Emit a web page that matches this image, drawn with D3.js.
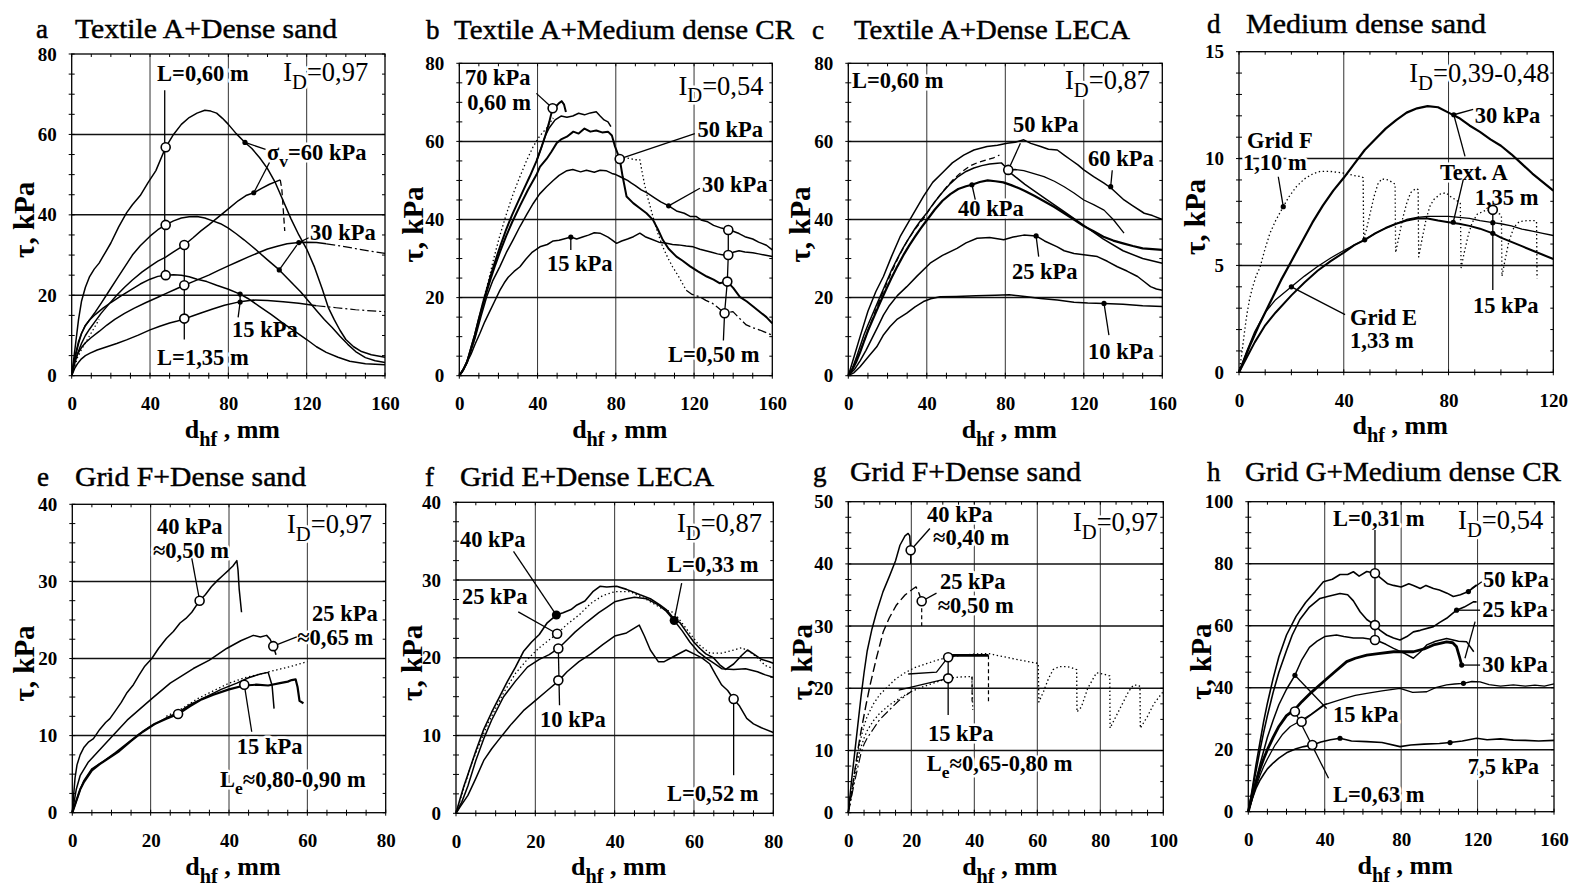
<!DOCTYPE html>
<html><head><meta charset="utf-8">
<script src="https://cdn.jsdelivr.net/npm/d3@7/dist/d3.min.js"></script>
<style>
html,body{margin:0;padding:0;background:#fff;}
svg{display:block;}
text{font-family:"Liberation Serif","Times New Roman",Times,serif;fill:#000;}
</style></head><body>
<svg id="chart" width="1570" height="886" viewBox="0 0 1570 886"></svg>
<script>
// ================= DATA =================
// ---- panel a : Textile A + Dense sand ----
const a60=[[0,0],[1,4],[2,8],[3.5,14],[5,18.5],[7,22],[9,24.5],[11.5,26.5],[14,28],[17,30.5],[20,33],[24,37],[28,40.5],[31,42.5],[35,44.8],[39,48],[43,51],[48,56.8],[52,60],[56,62.5],[60,64.2],[64,65.3],[68,66],[71,65.8],[74,65.3],[77,64],[80,62.5],[84,60.2],[88.5,58],[92,56.5],[96,54.2],[100,51.5],[104,48],[108,43.5],[112,39],[116,35],[120,31.5],[124,27],[128,21.5],[131,17],[134,14],[137,11.3],[140,9],[144,7.2],[148,6],[153,5.2],[160,4.6]];
const a40=[[0,0],[1,2.5],[2,5],[3.5,8],[5,10.5],[7,12.5],[9,13.8],[12,15.8],[15,18],[19,21],[23,24],[27,27],[31,30],[35,32.3],[40,34.7],[44,36.3],[48,37.5],[52,38.5],[56,39.2],[60,39.5],[64,39.6],[68,39.2],[72,38.5],[76,37.8],[80,36.7],[84,35.3],[88,33.8],[92,32.2],[96,30.5],[100,28.8],[106,26.3],[110,24.3],[114,22.3],[117,20.8],[121,18.5],[125,16.2],[129,14],[133,12],[137,9.8],[141,7.8],[145,6],[150,4.5],[155,3.7],[160,3.3]];
const aRise=[[0,0],[1.5,3],[3,5.5],[5,8],[7,10],[9,11.5],[12,13.5],[15,15.5],[19,17.8],[23,20],[27,22],[31,23.8],[36,25.8],[40,27.2],[44,28.5],[48,29.5],[52,30.8],[57.5,32.5],[62,34.3],[66,36],[70,37.5],[75,39.5],[80,41.5],[85,43.5],[89,44.8],[93,45.5],[97,46.6],[101,47.6],[104,48.2],[106.5,48.7]];
const aRiseTail=[[106.5,48.7],[107.3,46.5],[107.8,43],[108.3,39.5],[108.8,36]];
const a30=[[0,0],[1,2.5],[2,4.2],[3.5,5.8],[5,7],[7,8.2],[10,9.5],[14,11],[18,12.6],[22,14],[27,15.5],[32,16.8],[38,18.2],[44,19.5],[48,20.4],[53,21.5],[57.5,22.5],[62,23.4],[66,24.2],[70,25],[75,26.2],[80,27.3],[85,28.4],[90,29.5],[95,30.5],[100,31.5],[105,32.2],[110,32.8],[116,33.1],[120,33.2],[125,33.1],[130,32.8]];
const a30Tail=[[130,32.8],[137,32.3],[145,31.6],[152,31],[160,30.4]];
const a25=[[0,0],[1,3],[2,5.5],[3.5,8.5],[5,10.5],[7,12.5],[9,13.8],[12,15.2],[16,16.8],[20,18.2],[25,19.8],[30,21.3],[35,22.8],[40,24],[44,24.7],[48,25],[52,25.1],[56,25],[60,24.6],[64,24],[69,23.4],[74,22.5],[80,21.5],[86,20.3],[90,19.2],[96,17.2],[102,15.2],[108,13],[114,11],[120,9],[125,7.2],[130,5.8],[136,4.6],[142,3.6],[150,3],[160,2.7]];
const a15=[[0,0],[1.5,1.8],[3,3],[5,4.2],[7,5],[9.4,5.6],[13,6.4],[18,7.2],[23,8],[28,8.9],[34,10.1],[40,11.4],[45,12.3],[50,13.1],[54,13.6],[57.9,14.2],[62,14.9],[66,15.6],[72,16.6],[78,17.5],[85,18.3],[92.8,18.8],[100,18.7],[108,18.4],[116,18],[125,17.4]];
const a15Tail=[[125,17.4],[135,16.9],[145,16.4],[160,15.9]];
const aDotted=[[1,1.5],[3,4.5],[5,6.5],[8,9],[11,11.5],[14,14]];
const aCircles=[[48,56.8],[48,37.5],[48,25],[57.5,32.5],[57.5,22.5],[57.5,14.2]];
const aDots=[[88.5,58],[93,45.5],[106,26.3],[116,33.1],[86,20.3],[86,18.3]];
const aLeaders=[[[47.5,71],[47.5,25]],[[57.5,32.5],[57.5,9]],[[88.5,58],[99,56.3]],[[93,45.5],[101,53]],[[106,26.3],[115,32.5]],[[116,33.1],[121,34.3]],[[86,20.3],[86,18.3],[85,14.5]]];

// ---- panel b : Textile A + Medium dense CR ----
const b70dot=[[0,0],[1.5,1],[3,2.5],[4.5,4.3],[6.3,6.5],[8,9.8],[10,14],[12.3,19.4],[15,24.5],[17.4,29.6],[20.5,35.5],[24.2,41.6],[27.5,46.5],[31,51],[34.5,55.2],[37.8,58.7],[41,61.3],[44.6,63.4],[48,66]];
const b70=[[0,0],[2,1.5],[4,3.5],[6,7],[8,10.5],[10,14.5],[12,18.5],[14,22],[16,25.5],[18,28.8],[20.8,33],[24,37.5],[27,41.2],[30,44.5],[33,47.8],[36,51],[39.5,55],[42,58.5],[44,61.5],[46,65],[47.7,68.5],[49.5,69],[51,69.8],[52.3,70.3],[53.5,69.5],[54.5,67.5]];
const b66=[[39.5,55],[42,58.5],[44,61.5],[46,63.5],[49,65.5],[52,66.5],[55,66.2],[58,66.5],[61,67.2],[64,66.8],[67,67.3],[70,67.6],[72,66.5],[74,65.5],[76,65],[77.5,63.8]];
const b50=[[0,0],[2,1.5],[4,3.5],[6,7],[8,10.5],[10,14.5],[12,18],[14,21.5],[16,24.8],[18,27.8],[20.8,31.7],[24,35.8],[27,39.3],[31,43.5],[35,47.5],[39.5,51.5],[41.2,53.5],[44.6,55.5],[47,57.3],[49.7,59.5],[52,60.5],[55,61.2],[58.3,62.5],[61,62],[64,63.3],[67,62.5],[70,62.8],[73,62.3],[76,62.5],[78,61.5],[79.6,58.7],[82,55.5],[83.5,51],[85.5,45.9],[88.9,44.2],[92,43],[95.7,41.6],[99,39.9],[101.5,37.5],[104,34.8],[107,32.5],[111,30.5],[114,29.5],[118,28],[122,26.7],[126.5,25.4],[130,24.6],[133,23.7],[137,24.1],[140,22.5],[143.4,20.2],[147,19],[150.2,17.7],[154,16.2],[157,15],[160,13.4]];
const b30=[[0,0],[2,1.5],[4,3.8],[6,6.5],[8,9.5],[11,15],[14,20.2],[17,24.2],[20.8,28],[24,31.5],[27.5,34.8],[31,38.2],[34.5,41.3],[37.8,44.1],[41,46.5],[44.6,48.4],[48,50],[51,51.3],[55,52.5],[58,52.8],[62,52.2],[65,52.6],[69,52.1],[72,52.6],[75,52.5],[78,51.8],[80,51.5],[82,51],[84,50.5],[86,50],[88,49.3],[90,48.7],[93,47.6],[96,46.8],[100,45.5],[103,44.5],[107,43.5],[111,42.2],[115,41.6],[118,40.8],[121,40.8],[124,39.8],[127,39.4],[130,38.5],[134,37.8],[137.5,37.3],[140,37],[143,36.4],[146,35.6],[150,35],[153,34.2],[157,33.4],[160,32.2]];
const b15=[[0,0],[3,2.5],[6,5.5],[8,8],[10.5,10.8],[13,13.8],[15.5,16.4],[18,19],[20.8,21.9],[23,23.8],[25,25.2],[28,26.7],[31,27.9],[34,29.8],[37,31.5],[41.2,33],[45,33.6],[48,34.5],[51,34.7],[54.8,35.2],[57,35.5],[60,35],[63,35.5],[66,36],[69,36.6],[71.9,36.5],[74,36],[76,35.5],[78,34.8],[80.4,33.9],[83,34.5],[86,35],[89,35.6],[92.3,36.5],[95,35.6],[98,35],[102,34.2],[106,33.9],[109,33.6],[112,33.5],[116,33.2],[119.6,33],[123,32.4],[126,32],[129,31.6],[132,31.2],[135,30.9],[137.5,30.9],[140,31.6],[143,32],[146,31.7],[150,31.5],[153,31.2],[156,30.9],[160,30.5]];
const bDropDot=[[82,55.5],[85,55.8],[88,55.5],[90,55.3],[92.3,55.3],[93.5,52],[94.5,49.5],[95.7,46.7],[97.5,43.5],[99,40.7],[101.5,36.5],[104,33],[106.5,30.3],[109,27.9],[112,25.5],[116,21.9]];
const bDropTail=[[116,21.9],[119,20.8],[123,20.2],[126,19.3],[129.5,18.5],[132,17.5],[135.6,16],[139.9,16.4],[143,14.8],[146.7,13],[150,12.3],[153.6,11.7],[157,11],[160,10.4]];
const bCircles=[[47.7,68.5],[82,55.5],[137.5,37.3],[137.5,30.9],[137,24.1],[135.6,16]];
const bDots=[[107,43.5],[57,35.5]];
const bLeaders=[[[39.4,72.3],[47.7,68.5]],[[82,55.5],[120.4,62]],[[107,43.5],[123,48]],[[57,35.5],[57,32.2]],[[137.5,37.3],[137.5,30.9],[137,24.1],[135.6,16],[135,9]]];

// ---- panel c : Textile A + Dense LECA ----
const c60=[[0,0],[3,5],[6,10],[10,16.5],[14,21.5],[17.9,25.4],[22,30.5],[26.4,35.6],[32,40.5],[38.3,45.9],[43,49.5],[48.6,52.3],[53,54.5],[58.8,56.5],[64,57.8],[70.7,58.7],[76,59],[80.9,59.5],[85,59.8],[89.4,60.4],[93,59.5],[98,58.7],[102,58],[106.5,57.8],[110,56.5],[113.3,55.3],[117,54],[120,52.7],[125,51],[130.3,49.3],[134,48],[140.5,45],[145,43.5],[150.8,41.6],[155,41],[160,40]];
const c50=[[0,0],[2,1.8],[4,4.5],[6,7.5],[8,10.5],[10,13],[13,16.5],[16,20],[19,23.5],[22,27],[25,30],[28,32.8],[31,35.3],[34,37.7],[37,39.8],[40,41.7],[44,44.5],[48,47],[52,49.2],[56,51],[60,52.3],[64,53.2],[68,53.8],[72,54.2],[76,54.4],[78,54.5],[80,53.5],[82,52.2],[85,51],[90,49],[100,45.5],[110,42],[120,38.5],[130,35],[140,32],[150,30],[160,28.8]];
const c40=[[0,0],[2,1.5],[4,3.5],[6,6],[8,8.8],[10,11.5],[13,15],[16,18.5],[19,21.8],[22,25],[25,28],[28,30.8],[31,33.3],[34,35.6],[37,37.8],[40,39.8],[44,42.5],[48,44.8],[52,46.5],[56,47.8],[60,48.5],[63,48.9],[67,49.6],[71,50],[75,49.8],[79,49.5],[83,48.8],[87,48],[90,47.3],[95,46],[100,44.6],[105,43.2],[110,41.6],[115,40],[120,38.3],[125,37],[130,35.6],[135,34.6],[140,33.9],[145,33.2],[150,32.6],[155,32.4],[160,32.2]];
const cDashRise=[[0,0],[3,2.8],[6,6.2],[10,11.5],[14,16.8],[18,21.8],[22,26.5],[26,30.8],[30,34.5],[34,37.5],[38,40],[42,43],[46,45.8],[50,48.3],[54,50.5],[58,52.3],[62,53.7],[66,54.6],[70,55.2],[74,55.8],[77,56.5]];
const cShort=[[81.5,52.7],[85,52.8],[89.4,52.5],[95,51.7],[99.7,51],[105,49.8],[110,48.4],[115,46.8],[120,45],[125,43.8],[130.3,42.4],[135,40],[140.5,36.5]];
const c25=[[0,0],[3,1.5],[6,3.8],[9,6.5],[12,9.5],[15,12.5],[17.9,15.5],[21,18],[25,20.5],[29.8,22.8],[35,25.5],[41.7,28.8],[48,30.8],[55.4,32.6],[60,34],[65.6,35.2],[72,35.4],[79.2,34.8],[84,35.5],[89.4,36],[95.7,35.8],[100,34.5],[106.5,33],[110,32],[115,31.3],[120,31],[126.9,30.5],[132,29.3],[137.1,27.9],[142,26.8],[147.4,25.4],[151,24],[154,22.8],[157,22.2],[160,21.9]];
const c10=[[0,0],[3,0.8],[6,2.3],[10,4.7],[14.5,7.4],[18,10.5],[21.3,12.6],[25,14.5],[29.8,16],[34,17.6],[38.3,19],[42,19.7],[46.8,20.2],[55,20.3],[65,20.5],[75,20.6],[82,20.7],[90,20.3],[98,19.8],[106.5,19.4],[115,18.8],[122,18.6],[130.3,18.5],[140,18.3],[150,17.9],[160,17.7]];
const cCircles=[[81.5,52.7]];
const cDots=[[133.7,48.4],[63,48.9],[95.7,35.8],[130.3,18.5]];
const cLeaders=[[[87.7,59.5],[81.5,52.7]],[[133.7,48.4],[134.5,52.6]],[[63,48.9],[64.7,45.1]],[[95.7,35.8],[97,30.5]],[[130.3,18.5],[132.8,10.4]]];

// ---- panel d : Medium dense sand ----
const d30=[[0,0],[2,0.6],[4,1.2],[6,1.75],[8,2.3],[10,2.8],[13,3.55],[16,4.3],[20,5.2],[24,6.1],[28,7],[32,7.8],[36,8.5],[40,9.1],[44,9.75],[48,10.4],[52,10.9],[56,11.4],[60,11.8],[64,12.15],[68,12.35],[72,12.45],[76,12.4],[80,12.15],[84,11.9],[88,11.55],[92,11.25],[96,10.9],[100,10.6],[104,10.2],[108,9.75],[112,9.3],[116,8.9],[120,8.5]];
const dLow=[[0,0],[3,0.7],[6,1.4],[10,2.2],[14,2.8],[20,3.6],[25,4.2],[30,4.75],[35,5.2],[40,5.6],[44,5.95],[48,6.2],[52,6.5],[56,6.75],[60,6.95],[64,7.1],[68,7.2],[72,7.2],[76,7.1],[80,7.02],[84,6.95],[88,6.85],[92,6.72],[96.9,6.5],[100,6.3],[104,6.1],[108,5.9],[112,5.7],[116,5.5],[120,5.3]];
const dHigh=[[0,0],[3,1],[6,1.9],[10,2.8],[14,3.4],[20,4],[25,4.5],[30,4.95],[35,5.35],[40,5.7],[44,5.95],[48,6.2],[52,6.5],[56,6.75],[60,6.95],[64,7.15],[68,7.25],[72,7.3],[76,7.3],[80,7.3],[84,7.25],[88,7.2],[92,7.1],[96.9,7.0],[100,6.95],[104,6.85],[108,6.7],[112,6.6],[116,6.5],[120,6.4]];
const dGridF=[[0,0],[1,0.8],[2,1.8],[3,2.7],[4,3.4],[5,3.9],[6.5,4.5],[8,4.9],[10,5.8],[11.8,6.5],[14,7.1],[16.9,7.75],[19,8.2],[22,8.7],[25,9.05],[28.4,9.3],[31,9.4],[34.7,9.4],[38,9.35],[41,9.3],[44,9.2],[46.8,9.15],[47.4,9.1],[47.6,6.3],[48.5,6.6],[50,7.4],[51.5,8.2],[53,8.8],[54.5,9.05],[57,9.0],[59,8.85],[59.6,8.8],[59.8,5.6],[61,6.3],[62.5,7.2],[64,7.9],[65.5,8.4],[67.5,8.6],[68.4,8.55],[68.6,5.4],[70,6.3],[71.5,7.2],[73,7.8],[74.5,8.1],[77,8.35],[79,8.4],[81,8.2],[83,8.05],[84.5,7.9],[84.8,4.9],[86,5.6],[87.5,6.4],[89,7.0],[91,7.4],[94.5,7.6],[97,7.55],[99.6,7.4],[100.2,7.3],[100.4,4.5],[101.5,5.2],[103,6.1],[105,6.8],[107,7.05],[110,7.1],[113,7.1],[113.6,7.05],[113.8,4.4]];
const dCircles=[[96.9,7.6]];
const dDots=[[82,12.05],[16.9,7.75],[81.8,7.02],[20,4],[96.9,7.0],[96.9,6.5],[48,6.2]];
const dLeaders=[[[82,12.05],[89.4,12.3]],[[82,12.05],[86.3,10.1]],[[85.6,9.0],[81.8,7.02]],[[96.9,7.75],[96.9,3.85]],[[15,9.15],[16.9,7.75]],[[20,4],[40.5,2.7]]];

// ---- panel e : Grid F + Dense sand ----
const e40=[[0,0],[0.3,2],[0.7,4.5],[1.2,6.2],[2,7.5],[3,8.5],[4.2,9.2],[5.4,9.6],[7,10.8],[8.5,11.7],[9.6,12.2],[11,13.2],[12.5,14.3],[14,15.6],[15.6,16.6],[17,17.8],[18.5,19],[20.3,20],[22,21.3],[24,22.6],[25.8,23.5],[27.5,24.6],[29,25.2],[30.5,26],[32.5,27.5],[34,28.3],[35.5,29.3],[37,30.1],[38.5,30.8],[40,31.5],[41,32],[42,32.7],[42.3,31.5],[42.6,29],[43.2,26]];
const e25=[[0,0],[0.5,1.5],[1,3],[2,4.8],[4,6.5],[6,7.6],[9.6,9.6],[14,12],[20.3,14.8],[25,16.8],[30.9,18.7],[35,19.8],[39.4,21.3],[43,22.3],[46.2,23],[48,22.8],[49.6,23],[50.5,22.5],[51.3,21.6],[52,20.5]];
const e15a=[[0,0],[1,1.5],[2,3],[3,4],[5,5.5],[7,6.3],[10,7.3],[12,8],[15,9.3],[18,10.5],[21,11.5],[24,12.2],[27,12.8],[30,13.8],[33,14.7],[36,15.3],[40,16],[43.9,16.5],[47,16.6],[50,16.5],[53,16.8],[55,17],[56,17.2],[57,17.3],[57.5,16.3],[58,14.5],[59,14.2]];
const e15b=[[0,0],[1,1.5],[2,3],[3,4.2],[5,5.7],[8,6.7],[11,7.8],[14,9],[17,10.2],[20,11.2],[24,12.3],[27,13],[30,14],[34,15],[38,16],[42,16.8],[45,17.5],[48,18],[50,18.2],[51,16.5],[51.5,13.5]];
const e15dot=[[24,12.5],[28,13.5],[32,14.8],[36,15.8],[40,16.8],[44,17.5],[48,18],[52,18.5],[56,19],[60,19.6]];
const eCircles=[[32.5,27.5],[51.3,21.6],[43.9,16.6],[27,12.8]];
const eLeaders=[[[32.5,27.5],[30.5,33]],[[51.3,21.6],[57.3,22.8]],[[43.9,16.6],[45.8,10.5]]];

// ---- panel f : Grid E + Dense LECA ----
const f40=[[0,0],[1,1.8],[2,3.5],[3,5],[5,8],[7,10.8],[9,13],[11,15],[13,17],[15,18.8],[17,20.8],[19,22],[21,23],[23,24.5],[25.3,25.5],[27,25.8],[29,26.2],[30.5,26.8],[32.5,27.3],[34.5,28.5],[36.3,29.2],[38,29.1],[40.5,29.2],[43,28.8],[46.4,28.1],[49,27.6],[51.4,26.8],[53,26.2],[55,25],[56.5,24.5],[58,23.4],[60,22],[61.5,21.2],[63,20.5],[64.9,20],[66.5,19.1],[68,18.5],[70,19.2],[72,20.3],[73.5,21],[75,20.5],[77,19.8],[79,19.5],[80,19.3]];
const f25=[[0,0],[2,3.3],[4,6.5],[6,9],[8,11.5],[10,13.5],[12,15.5],[15,18],[18,19.8],[21,21.3],[25.5,23.1],[28,24.3],[31,25.5],[34,27],[37,28],[40,28.5],[44,28.5],[48,27.5],[52,26.3],[55,25.8],[58,23.8],[61,21.8],[64,20.6],[67,20.6],[70,21],[72,21.3],[74,20.8],[76,20],[78,19],[80,18.6]];
const fMid=[[0,0],[1.5,1.5],[3,3.5],[5,6.8],[7,9.6],[9,12],[12,15],[15,17],[18,18.8],[21,19.8],[23.5,20.4],[25.8,21.2],[28,22.3],[30,23.3],[33,24.6],[36,25.8],[38,26.5],[40,27.2],[43,27.6],[45,27.8],[48,27.6],[51,26.8],[53,26],[55,24.8],[57,23.5],[59,22],[61,20.8],[63,20],[65,19.3],[67,18.6],[70,18.5],[73,18.6],[76,18.2],[78,17.8],[80,17.5]];
const f10=[[0,0],[1,0.8],[3,2.3],[5,4.5],[7,6.8],[9,8.3],[11,9.6],[14,11.5],[17,13.2],[20,14.5],[23,15.8],[25.8,17],[28,18.2],[31,19.5],[34,20.5],[37,21.7],[40,22.8],[43,23.2],[46.2,24.2],[47.5,22.8],[49,21],[51,19.5],[52.5,19.5],[55,20.2],[58,21],[60,20.5],[62,20],[64,19.2],[65.5,17.8],[67,16.5],[68.5,15.8],[70,14.7],[71.5,13.8],[73.3,12.2],[75,11.5],[77,11],[80,10.4]];
const fCircles=[[25.5,23.1],[25.8,21.2],[25.8,17.1],[70,14.7]];
const fBigDots=[[25.3,25.5],[55,24.8]];
const fLeaders=[[[14.5,33.7],[25.3,25.5]],[[15.7,25.9],[25.5,23.1]],[[25.8,21.2],[26.1,13.9]],[[56.9,29.6],[55,24.8]],[[70,14.7],[70,4.9]]];

// ---- panel g : Grid F + Dense sand ----
const g40=[[0,0],[0.5,2.5],[1,5],[2,9.5],[3,14],[4,18.5],[5,22.5],[6,26],[7.5,29.5],[9,32.3],[11,35.5],[13.2,38.2],[15,40.5],[16.4,43],[18,44.5],[19,44.9],[19.5,44.5],[19.8,42.2]];
const g25=[[0,0],[1,3],[2,6.5],[3,10],[4,13],[5.5,17],[6.9,20.5],[9,25],[11.1,29.1],[13,31.3],[15.3,33.4],[18,35],[20.6,36],[21.5,36.3],[22.5,35.2],[23.3,34]];
const g15a=[[0,0],[1,3],[2,6.5],[3,9.5],[4,12],[5,14],[6,15.5],[8,17.5],[10,19],[12,20],[15,21.5],[18,22.5],[21,23.3],[25,24],[28,24.5],[31.7,25],[36,25.3],[40,25.5],[44.4,25.6],[48,25.2],[52,24.8],[56,24.4],[60.3,24],[60.5,17.8],[62,19.5],[63.5,21.5],[65,23],[67,23.5],[69.3,23.5],[71,23.3],[72.5,23],[72.6,16.2],[74,17],[76,20],[78.8,22.5],[81,22.3],[83,22],[83.1,13.6],[85,15.5],[87,17.5],[89,19.5],[90.5,20.5],[92,20.5],[92.6,20.3],[92.7,13.6],[95,15.5],[97,17.5],[100,19.5]];
const g15b=[[0,0],[1,3],[2,6],[3,8.5],[4,10.5],[5,12],[6,13.2],[8,14.8],[10,16],[13,17.3],[16,18.3],[20,19.5],[24,20.3],[28,21],[31.7,21.6],[35,21.8],[39.2,21.9],[39.4,19],[39.5,16.5]];
const g15c=[[0,0],[2,5],[4,9.5],[5,11],[6,12],[8,13.5],[10,15],[13,16.5],[16,18],[20,19.5]];
const gCircles=[[19.8,42.2],[23.3,34],[31.7,25],[31.7,21.6]];
const gLeaders=[[[19.8,42.2],[25.9,45.7]],[[19.8,42.2],[19.8,40]],[[23.3,34],[28,35.3]],[[31.7,25],[31.7,15.7]],[[31.7,25],[28,22.6],[19,22.3]],[[31.7,21.6],[16,19.7]]];
const gBar=[[31.7,25.3],[44.5,25.3]];
const gDashV=[[[23.3,34],[23.3,30]],[[39.3,21.9],[39.3,17.8]],[[44.5,25.3],[44.5,17.8]]];

// ---- panel h : Grid G + Medium dense CR ----
const h50=[[0,0],[2,7],[4,15],[6,22],[8,29],[10,35],[13,43],[16,50],[20,57],[25,63],[30,67.5],[35,71],[39.3,74.2],[44,75],[48,76.5],[52,76.5],[55,77.4],[58,76],[62,77.5],[66.3,76.9],[70,75],[73,73.5],[76,73],[80,72.5],[84,73.5],[86.4,73],[90,72],[93,73],[96.9,72],[100,71.5],[104,70.5],[107.3,69.4],[111,70],[115.2,71],[117,72],[119.5,73.2]];
const h25=[[0,0],[2,6.5],[4,13],[6,19.5],[8,25.5],[10,31],[13,38.5],[16,45],[20,52],[23,57],[27,62],[32,66],[37.5,68.8],[42,69.5],[48,70.4],[52,70],[55,68],[58.5,64.5],[62,62],[66.3,60.2],[69,58.5],[72.4,57],[76,56],[79.4,55.4],[83,56.5],[86.4,58],[90,58.5],[96.9,59.7],[100,61],[103.8,62.4],[106,63.5],[109,65],[113,66],[117.8,67.7],[119.5,67.7]];
const h15=[[0,0],[2,5],[4,10],[6,15],[8,19.5],[10,24],[13,29.5],[16,34.5],[20,39.5],[24.4,44],[28,49],[32,53],[36,55],[40,56.5],[46.2,57],[50,56.5],[55,56],[60,56],[66.8,55.4],[72,54],[76,52.7],[82,51],[86.4,49.5],[90,51.5],[93.4,53.8],[98,55],[103.8,55.9],[110,55],[114.3,54.8],[118,51.6]];
const h30=[[0,0],[2,5],[4,9.5],[6,13.5],[8,17],[10,20],[13,24],[16,27.5],[20,31],[24.4,33],[28,35.5],[33,38.5],[39.3,41.9],[45,45],[51.5,48.4],[56,49.5],[62,50.5],[68,51],[76,51.6],[86.4,51.6],[92,52.5],[96.9,53.8],[103.8,54.8],[107,54.5],[109,53.2],[110.5,50],[111.7,47.3]];
const h40=[[0,0],[2,4],[4,8],[6,11.5],[8,14.5],[10,17],[14,21.5],[18,25],[22,27.5],[27.9,29.5],[33,31.5],[39.3,34.4],[45,35.5],[50,36.5],[56,37.5],[62,38.2],[70,39],[79.4,39.8],[86,38.5],[93.4,38.7],[98,40],[103.8,40.9],[108,41.2],[112.6,41.4],[117,42],[121.3,41.9],[126,41],[132,40.5],[138.7,40.9],[145,40.5],[150,40.8],[155,40.5],[160,41.2]];
const h7=[[0,0],[2,4],[4,7.5],[6,10],[8,12],[10,13.8],[13,15.7],[16,17.3],[20,19],[25,20.3],[29,21],[33.5,21.5],[38,22.5],[43,23.2],[48,23.7],[54,22.8],[62,22.6],[70,22.3],[79.4,21],[85,21.5],[92,21.8],[100,22],[105.6,22.3],[112,22.8],[119.5,23.7],[125,23.2],[132,23.5],[138.7,23.1],[145,23],[152,22.8],[160,23]];
const hCircles=[[66.3,76.9],[66.3,60.2],[66.3,55.4],[24.4,32.3],[27.9,29],[33.5,21.5]];
const hDots=[[24.4,44],[48,23.7],[115.2,71],[109,65],[111.7,47.3],[112.6,41.4],[105.6,22.3]];
const hLeaders=[[[66.3,90.9],[66.3,55.4]],[[115.2,71],[122.2,74.2]],[[109,65],[121.3,65]],[[118.7,61.3],[113.4,49.5]],[[111.7,47.3],[121.3,47.3]],[[24.4,44],[41,33.3]],[[27.9,29],[41,34.9]],[[24.4,32.3],[42,10.8]]];

// ================= LAYOUT =================
const SOLID=null, DOT="1.4,2.6", DASH="6,3.5", DASHDOT="9,3,2,3";
// text entries: [kind, [[string, x, y], ...more lines]]  (kind "a" = bold label, "i" = I_D label)
const panels=[
 {letter:"a",title:"Textile A+Dense sand",lx:36,tx:75,ty:38,tw:262,box:[71.7,54,385,375.7],xd:[0,160],yd:[0,80],xt:[0,40,80,120,160],yt:[0,20,40,60,80],xg:[40,80,120],yg:[20,40,60],xm:10,ym:5,ylx:34,
  series:[[a60,1.5,SOLID],[a40,1.5,SOLID],[aRise,1.5,SOLID],[aRiseTail,1.3,DASH],[a30,1.5,SOLID],[a30Tail,1.2,DASHDOT],[a25,1.5,SOLID],[a15,1.5,SOLID],[a15Tail,1.2,DASHDOT],[aDotted,1.2,DOT]],
  leaders:aLeaders,circles:aCircles,dots:aDots,
  texts:[["a",[["L=0,60 m",43.6,73.2]]],["i",[["I_{D}=0,97",108,73.2]]],["a",[["σ_{v}=60 kPa",99.7,53.7]]],["a",[["30 kPa",121.7,33.8]]],["a",[["15 kPa",81.9,9.6]]],["a",[["L=1,35 m",43.6,2.7]]]]},
 {letter:"b",title:"Textile A+Medium dense CR",lx:426,tx:454,ty:39,tw:340,box:[459.3,63.3,772.3,375.7],xd:[0,160],yd:[0,80],xt:[0,40,80,120,160],yt:[0,20,40,60,80],xg:[40,80,120],yg:[20,40,60],xm:10,ym:5,ylx:423,
  series:[[b70dot,1.3,DOT],[b70,2,SOLID],[b66,1.5,SOLID],[b50,2,SOLID],[b30,1.5,SOLID],[b15,1.5,SOLID],[bDropDot,1.3,DOT],[bDropTail,1.3,DASHDOT]],
  leaders:bLeaders,circles:bCircles,dots:bDots,
  texts:[["a",[["70 kPa",2.9,74.4],["0,60 m",4,68]]],["i",[["I_{D}=0,54",112,72]]],["a",[["50 kPa",121.7,61.1]]],["a",[["30 kPa",124,47]]],["a",[["15 kPa",44.8,26.8]]],["a",[["L=0,50 m",106.7,3.5]]]]},
 {letter:"c",title:"Textile A+Dense LECA",lx:812,tx:854,ty:39,tw:276,box:[848.3,63.3,1162.3,375.7],xd:[0,160],yd:[0,80],xt:[0,40,80,120,160],yt:[0,20,40,60,80],xg:[40,80,120],yg:[20,40,60],xm:10,ym:5,ylx:810,
  series:[[c60,1.5,SOLID],[c50,1.5,SOLID],[c40,2.2,SOLID],[cDashRise,1.3,DASH],[cShort,1.3,SOLID],[c25,1.5,SOLID],[c10,1.5,SOLID]],
  leaders:cLeaders,circles:cCircles,dots:cDots,
  texts:[["a",[["L=0,60 m",1.9,73.7]]],["i",[["I_{D}=0,87",110.4,73.4]]],["a",[["50 kPa",83.9,62.4]]],["a",[["60 kPa",122.2,53.7]]],["a",[["40 kPa",55.9,40.9]]],["a",[["25 kPa",83.4,24.8]]],["a",[["10 kPa",122.2,4.3]]]]},
 {letter:"d",title:"Medium dense sand",lx:1207,tx:1246,ty:33,tw:240,box:[1239,51.7,1553.3,372.3],xd:[0,120],yd:[0,15],xt:[0,40,80,120],yt:[0,5,10,15],xg:[40,80],yg:[5,10],xm:10,ym:1,ylx:1205,
  series:[[d30,2.2,SOLID],[dLow,2,SOLID],[dHigh,1.3,SOLID],[dGridF,1.3,DOT]],
  leaders:dLeaders,circles:dCircles,dots:dDots,
  texts:[["i",[["I_{D}=0,39-0,48",65,13.6]]],["a",[["30 kPa",90,11.66]]],["a",[["Grid F",3.1,10.5],["1,10 m",1.5,9.45]]],["a",[["Text. A",76.7,9.0],["1,35 m",90,7.83]]],["a",[["Grid E",42.4,2.2],["1,33 m",42.4,1.15]]],["a",[["15 kPa",89.3,2.78]]]]},
 {letter:"e",title:"Grid F+Dense sand",lx:37,tx:75,ty:486,tw:231,box:[72.3,504.3,385.7,812.7],xd:[0,80],yd:[0,40],xt:[0,20,40,60,80],yt:[0,10,20,30,40],xg:[20,40,60],yg:[10,20,30],xm:5,ym:2.5,ylx:34,
  series:[[e40,1.5,SOLID],[e25,1.5,SOLID],[e15a,2.2,SOLID],[e15b,1.5,SOLID],[e15dot,1.3,DOT]],
  leaders:eLeaders,circles:eCircles,dots:[],
  texts:[["a",[["40 kPa",21.6,36.1],["≈0,50 m",20.6,33.0]]],["i",[["I_{D}=0,97",54.8,36.3]]],["a",[["25 kPa",61.2,24.85],["≈0,65 m",57.4,21.75]]],["a",[["15 kPa",42,7.6]]],["a",[["L_{e}≈0,80-0,90 m",37.7,3.3]]]]},
 {letter:"f",title:"Grid E+Dense LECA",lx:425,tx:460,ty:486,tw:254,box:[456,502.3,773.3,813.3],xd:[0,80],yd:[0,40],xt:[0,20,40,60,80],yt:[0,10,20,30,40],xg:[20,40,60],yg:[10,20,30],xm:5,ym:2.5,ylx:422,
  series:[[f40,1.6,SOLID],[f25,1.3,DOT],[fMid,1.5,SOLID],[f10,1.5,SOLID]],
  leaders:fLeaders,circles:fCircles,dots:fBigDots,
  texts:[["i",[["I_{D}=0,87",55.7,36.2]]],["a",[["40 kPa",1,34.2]]],["a",[["L=0,33 m",53.2,31]]],["a",[["25 kPa",1.5,26.9]]],["a",[["10 kPa",21.2,11.1]]],["a",[["L=0,52 m",53.2,1.6]]]]},
 {letter:"g",title:"Grid F+Dense sand",lx:813,tx:850,ty:481,tw:231,box:[848.3,501.7,1163.3,812.7],xd:[0,100],yd:[0,50],xt:[0,20,40,60,80,100],yt:[0,10,20,30,40,50],xg:[20,40,60,80],yg:[10,20,30,40],xm:5,ym:2.5,ylx:812,
  series:[[g40,1.5,SOLID],[g25,1.4,"9,4"],[g15a,1.3,DOT],[g15b,1.3,DOT],[g15c,1.2,DASHDOT]],
  leaders:gLeaders,circles:gCircles,dots:[],
  texts:[["a",[["40 kPa",25,46.8],["≈0,40 m",26.9,43]]],["i",[["I_{D}=0,97",71.3,45.3]]],["a",[["25 kPa",29.1,36.0],["≈0,50 m",28.4,32.1]]],["a",[["15 kPa",25.3,11.5]]],["a",[["L_{e}≈0,65-0,80 m",24.9,6.7]]]]},
 {letter:"h",title:"Grid G+Medium dense CR",lx:1207,tx:1245,ty:481,tw:316,box:[1248.3,501.7,1554,811.7],xd:[0,160],yd:[0,100],xt:[0,40,80,120,160],yt:[0,20,40,60,80,100],xg:[40,80,120],yg:[20,40,60,80],xm:10,ym:5,ylx:1211,
  series:[[h50,1.6,SOLID],[h25,1.6,SOLID],[h15,1.5,SOLID],[h30,2.8,SOLID],[h40,1.3,SOLID],[h7,1.6,SOLID]],
  leaders:hLeaders,circles:hCircles,dots:hDots,
  texts:[["a",[["L=0,31 m",44.3,92.2]]],["i",[["I_{D}=0,54",109.8,91.2]]],["a",[["50 kPa",122.9,72.5]]],["a",[["25 kPa",122.4,62.8]]],["a",[["30 kPa",122.4,45.1]]],["a",[["15 kPa",44.3,28.9]]],["a",[["7,5 kPa",114.9,12.2]]],["a",[["L=0,63 m",44.3,3.1]]]]}
];

// ================= DRAW =================
const svg=d3.select("#chart");
svg.append("rect").attr("width",1570).attr("height",886).attr("fill","#fff");

function rich(sel,str,size){
  const parts=str.split(/(_\{[^}]*\})/).filter(s=>s.length);
  let down=false;
  parts.forEach(p=>{
    if(p.startsWith("_{")){
      sel.append("tspan").attr("dy",size*0.3).attr("font-size",size*0.78).text(p.slice(2,-1));
      down=true;
    } else {
      const t=sel.append("tspan").text(p);
      if(down){t.attr("dy",-size*0.3);down=false;}
    }
  });
}

const lineGen=d3.line().curve(d3.curveLinear);

panels.forEach(p=>{
  const [L,T,R,B]=p.box;
  const x=d3.scaleLinear().domain(p.xd).range([L,R]);
  const y=d3.scaleLinear().domain(p.yd).range([B,T]);
  const g=svg.append("g");
  lineGen.x(d=>x(d[0])).y(d=>y(d[1]));

  // title
  g.append("text").attr("x",p.lx).attr("y",p.ty).attr("font-size",27)
    .attr("stroke","#000").attr("stroke-width",0.5).text(p.letter);
  g.append("text").attr("x",p.tx).attr("y",p.ty).attr("font-size",27)
    .attr("stroke","#000").attr("stroke-width",0.45)
    .attr("textLength",p.tw).attr("lengthAdjust","spacingAndGlyphs").text(p.title);

  // grid
  g.selectAll(null).data(p.xg).join("line")
    .attr("x1",d=>x(d)).attr("x2",d=>x(d)).attr("y1",T).attr("y2",B)
    .attr("stroke","#333").attr("stroke-width",1);
  g.selectAll(null).data(p.yg).join("line")
    .attr("x1",L).attr("x2",R).attr("y1",d=>y(d)).attr("y2",d=>y(d))
    .attr("stroke","#111").attr("stroke-width",1.5);

  // annotation texts (white halo interrupts grid); multi-line labels are one text element
  p.texts.forEach(([kind,lines])=>{
    const isI=kind==="i";
    const size=isI?26.5:22.5;
    const t=g.append("text")
      .attr("font-size",size).attr("font-weight",isI?"normal":"bold")
      .attr("stroke","#fff").attr("stroke-width",5).attr("paint-order","stroke")
      .attr("stroke-linejoin","round");
    lines.forEach(([str,tx,ty])=>{
      const ln=t.append("tspan").attr("x",x(tx)).attr("y",y(ty));
      rich(ln,str,size);
    });
  });

  // frame
  g.append("rect").attr("x",L).attr("y",T).attr("width",R-L).attr("height",B-T)
    .attr("fill","none").attr("stroke","#000").attr("stroke-width",1.3);

  // minor ticks
  const xm=d3.range(p.xd[0],p.xd[1]+1e-9,p.xm);
  const ym=d3.range(p.yd[0],p.yd[1]+1e-9,p.ym);
  g.selectAll(null).data(xm).join("line").attr("x1",d=>x(d)).attr("x2",d=>x(d))
    .attr("y1",B-3).attr("y2",B+3).attr("stroke","#000").attr("stroke-width",1);
  g.selectAll(null).data(xm).join("line").attr("x1",d=>x(d)).attr("x2",d=>x(d))
    .attr("y1",T).attr("y2",T+3).attr("stroke","#000").attr("stroke-width",1);
  g.selectAll(null).data(ym).join("line").attr("x1",L-3).attr("x2",L+3)
    .attr("y1",d=>y(d)).attr("y2",d=>y(d)).attr("stroke","#000").attr("stroke-width",1);
  g.selectAll(null).data(ym).join("line").attr("x1",R-3).attr("x2",R)
    .attr("y1",d=>y(d)).attr("y2",d=>y(d)).attr("stroke","#000").attr("stroke-width",1);

  // tick labels via d3 axes
  const ax=g.append("g").attr("transform",`translate(0,${B})`)
    .call(d3.axisBottom(x).tickValues(p.xt).tickSize(0).tickPadding(21).tickFormat(d=>String(d)));
  ax.select(".domain").remove();
  ax.selectAll("text").style("font-size","19px").style("font-weight","bold").style("font-family","'Liberation Serif',serif");
  const ay=g.append("g").attr("transform",`translate(${L},0)`)
    .call(d3.axisLeft(y).tickValues(p.yt).tickSize(0).tickPadding(15).tickFormat(d=>String(d)));
  ay.select(".domain").remove();
  ay.selectAll("text").style("font-size","19px").style("font-weight","bold").style("font-family","'Liberation Serif',serif");

  // axis titles
  const xl=g.append("text").attr("x",(L+R)/2+4).attr("y",B+62).attr("text-anchor","middle")
    .attr("font-size",26).attr("font-weight","bold");
  rich(xl,"d_{hf} , mm",26);
  g.append("text").attr("transform",`translate(${p.ylx},${(T+B)/2+5}) rotate(-90)`)
    .attr("text-anchor","middle").attr("font-size",29).attr("font-weight","bold").text("τ, kPa");

  // curves
  p.series.forEach(([data,w,dash])=>{
    g.append("path").datum(data).attr("d",lineGen).attr("fill","none")
      .attr("stroke","#000").attr("stroke-width",w).attr("stroke-linejoin","round")
      .attr("stroke-dasharray",dash);
  });
  // extra marks for panel g
  if(p.letter==="g"){
    g.append("path").datum(gBar).attr("d",lineGen).attr("stroke","#000").attr("stroke-width",2.6).attr("fill","none");
    gDashV.forEach(s=>g.append("path").datum(s).attr("d",lineGen).attr("stroke","#000").attr("stroke-width",1.2).attr("stroke-dasharray","4,3").attr("fill","none"));
  }
  // leaders
  p.leaders.forEach(s=>{
    g.append("path").datum(s).attr("d",lineGen).attr("fill","none").attr("stroke","#000").attr("stroke-width",1.3);
  });
  // markers
  g.selectAll(null).data(p.circles).join("circle").attr("cx",d=>x(d[0])).attr("cy",d=>y(d[1]))
    .attr("r",4.5).attr("fill","#fff").attr("stroke","#000").attr("stroke-width",1.6);
  g.selectAll(null).data(p.dots).join("circle").attr("cx",d=>x(d[0])).attr("cy",d=>y(d[1]))
    .attr("r",p.letter==="f"?4.5:2.6).attr("fill","#000");
});
</script>
</body></html>
